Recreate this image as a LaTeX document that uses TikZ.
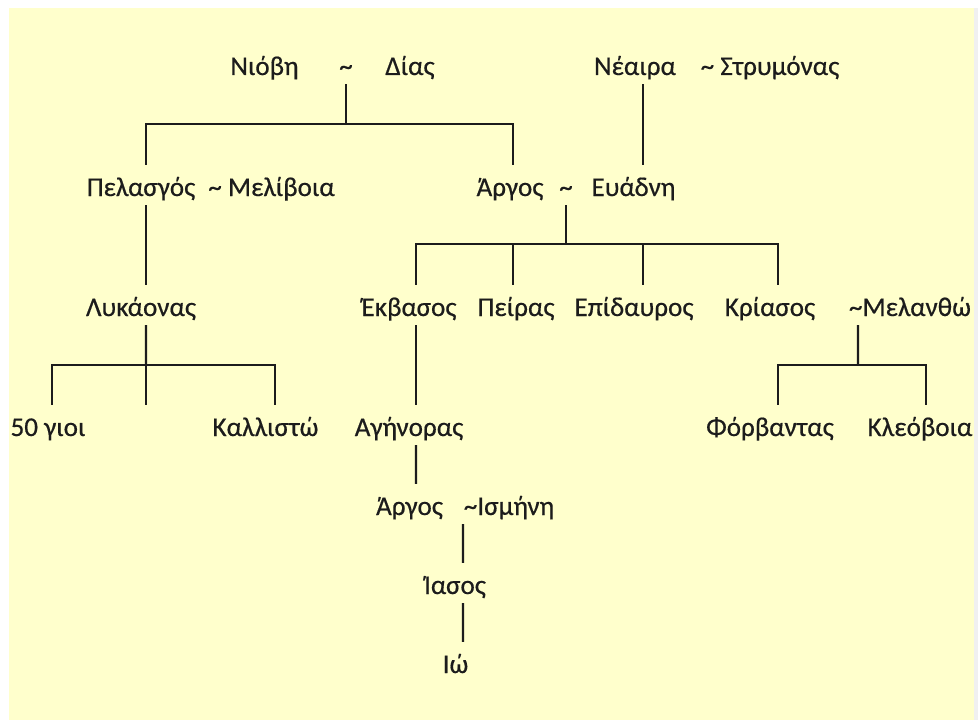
\documentclass[tikz,border=0pt]{standalone}
\usepackage{fontspec}
\setmainfont[FakeBold=0.5]{Carlito}
\definecolor{paper}{HTML}{FFFFCC}
\definecolor{ink}{HTML}{1C1C1C}
\tikzset{
  person/.style={anchor=base, inner sep=0pt, text height=31bp, text depth=9bp,
                 text=ink, font=\fontsize{27.2}{32}\selectfont},
  link/.style={draw=ink, line width=2.2bp},
}
\newcommand{\tld}{\textasciitilde}
\begin{document}
\begin{tikzpicture}[x=1bp,y=-1bp]
  \useasboundingbox (0,0) rectangle (978,720);
  \fill[white] (0,0) rectangle (978,720);
  \fill[paper] (9,8) rectangle (974,720);
  \fill[black!6] (974,8) rectangle (978,720);

  % generation 1
  \node[person] (niobi)  at (264.5,75) {Νιόβη};
  \node[person] (t1)     at (346,75)   {\tld};
  \node[person] (dias)   at (410,75)   {Δίας};
  \node[person] (neaira) at (635,75)   {Νέαιρα};
  \node[person] (strym)  at (770,75)   {\tld\ Στρυμόνας};

  % generation 2
  \node[person] (pel)    at (141,196)  {Πελασγός};
  \node[person] (mel)    at (271.5,196){\tld\ Μελίβοια};
  \node[person] (argos)  at (510,196)  {Άργος};
  \node[person] (t2)     at (566,196)  {\tld};
  \node[person] (evad)   at (633.5,196){Ευάδνη};

  % generation 3
  \node[person] (lyk)    at (141,316)  {Λυκάονας};
  \node[person] (ekv)    at (409,316)  {Έκβασος};
  \node[person] (peir)   at (516,316)  {Πείρας};
  \node[person] (epid)   at (634,316)  {Επίδαυρος};
  \node[person] (kria)   at (770,316)  {Κρίασος};
  \node[person] (melan)  at (910,316)  {\tld Μελανθώ};

  % generation 4
  \node[person] (gioi)   at (48,436)   {50 γιοι};
  \node[person] (kall)   at (265.5,436){Καλλιστώ};
  \node[person] (agen)   at (409,436)  {Αγήνορας};
  \node[person] (forv)   at (770,436)  {Φόρβαντας};
  \node[person] (kleo)   at (920,436)  {Κλεόβοια};

  % generations 5-7
  \node[person] (argos2) at (409.5,515){Άργος};
  \node[person] (ism)    at (509,515)  {\tld Ισμήνη};
  \node[person] (iasos)  at (455,594)  {Ίασος};
  \node[person] (io)     at (455.5,673){Ιώ};

  % junctions of the sibling bars
  \coordinate (b1)  at (346,124);
  \coordinate (b2)  at (566,244);
  \coordinate (b3)  at (146,365);
  \coordinate (mid) at (146,405);
  \coordinate (b4)  at (858,365);

  % Niobe ~ Zeus
  \draw[link] (t1.south) -- (b1);
  \draw[link] ([xshift=5bp]pel.north) |- (b1) -| ([xshift=3bp]argos.north);
  % Neaira ~ Strymon
  \draw[link] ([xshift=8bp]neaira.south) -- ([xshift=9.5bp]evad.north);
  % Argos ~ Evadne
  \draw[link] (t2.south) -- (b2);
  \draw[link] ([xshift=7bp]ekv.north) |- (b2) -| ([xshift=8bp]kria.north);
  \draw[link] ([xshift=-3bp]peir.north) |- (b2);
  \draw[link] ([xshift=9bp]epid.north) |- (b2);
  % Pelasgos line
  \draw[link] ([xshift=5bp]pel.south) -- ([xshift=5bp]lyk.north);
  \draw[link] ([xshift=5bp]lyk.south) -- (b3);
  \draw[link] ([xshift=4bp]gioi.north) |- (b3) -| ([xshift=9.5bp]kall.north);
  \draw[link] (b3) -- (mid);
  % Ekbasos line
  \draw[link] ([xshift=7bp]ekv.south) -- ([xshift=7bp]agen.north);
  \draw[link] ([xshift=7bp]agen.south) -- ([xshift=6.5bp]argos2.north);
  \draw[link] ([xshift=-46bp]ism.south) -- ([xshift=8bp]iasos.north);
  \draw[link] ([xshift=8bp]iasos.south) -- ([xshift=7.5bp]io.north);
  % Kriasos ~ Melantho
  \draw[link] ([xshift=-52bp]melan.south) -- (b4);
  \draw[link] ([xshift=8bp]forv.north) |- (b4) -| ([xshift=6bp]kleo.north);
\end{tikzpicture}
\end{document}
